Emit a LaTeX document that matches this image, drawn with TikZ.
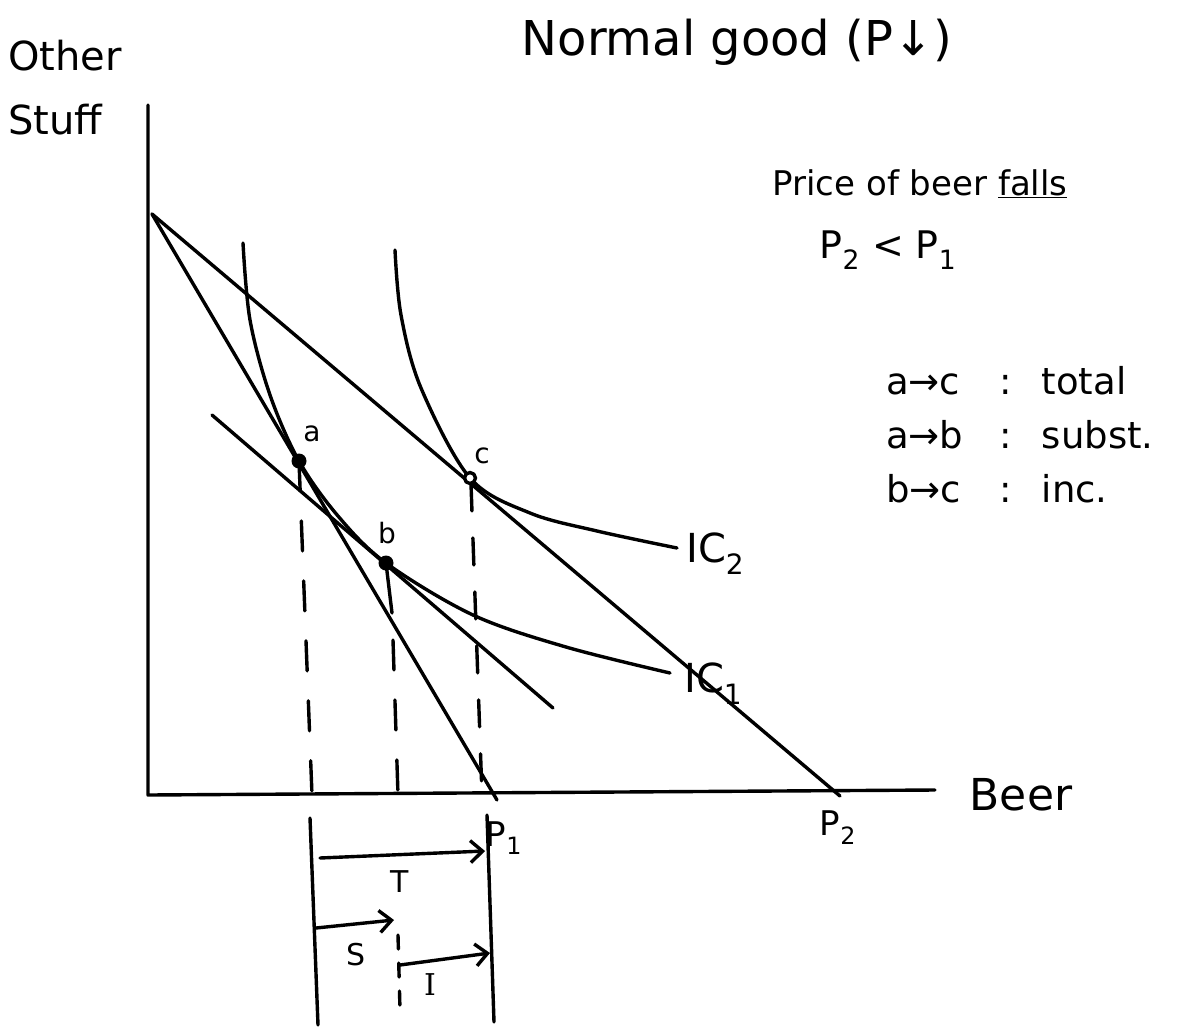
\documentclass[tikz,border=0pt]{standalone}
\usepackage{fontspec}
\setmainfont{DejaVu Sans}
\newfontfamily\serf{DejaVu Serif}
\usetikzlibrary{arrows.meta}
\begin{document}
\begin{tikzpicture}[x=1pt,y=-1pt,
  ink/.style={line width=3.4pt, line cap=round, line join=round},
  dashline/.style={ink, dash pattern=on 30pt off 30pt},
  arr/.style={ink, -{Straight Barb[length=12pt,width=22pt]}},
  lbl/.style={inner sep=0pt},
  big/.style={lbl, font=\fontsize{48}{58}\selectfont},
  mid/.style={lbl, font=\fontsize{36}{44}\selectfont},
  small/.style={lbl, font=\fontsize{28}{30}\selectfont},
  dot/.style={fill=black, draw=none},
]
\useasboundingbox (0,0) rectangle (1195,1029);

% key points
\coordinate (ytop) at (148,105);
\coordinate (O) at (148,795);
\coordinate (xend) at (935,790);
\coordinate (Y0) at (152,214);
\coordinate (P1x) at (497,800);
\coordinate (P2x) at (840,796);
\coordinate (cl1) at (212,415);
\coordinate (cl2) at (553,708);
\coordinate (pa) at (299,461);
\coordinate (pb) at (386,563);
\coordinate (pc) at (470,478);

% axes
\draw[ink] (ytop) -- (O) -- (xend);

% budget lines
\draw[ink] (Y0) -- (P1x);
\draw[ink] (Y0) -- (P2x);
\draw[ink] (cl1) -- (cl2);

% indifference curves
\draw[ink] plot[smooth, tension=0.55] coordinates {(243,243) (250,320) (270,395) (pa) (338,516) (pb) (473,615) (566,647) (670,673)};
\draw[ink] plot[smooth, tension=0.55] coordinates {(395,250) (401,315) (421,388) (pc) (530,513) (597,531) (677,548)};

% dashed drop lines
\coordinate (fa) at (312,795);
\coordinate (bs) at (392,613);
\coordinate (bd) at (393,640);
\coordinate (fb) at (398,795);
\coordinate (cs) at (471,484);
\coordinate (fc) at (482,795);
\draw[dashline] (pa) -- (fa);
\draw[ink] (pb) -- (bs);
\draw[dashline] (bd) -- (fb);
\draw[ink, dash pattern=on 27pt off 27pt] (cs) -- (fc);

% points
\fill[dot] (pa) circle (7.5);
\fill[dot] (pb) circle (7.5);
\draw[ink, fill=white] (pc) circle (5.5);

% point labels
\node[small] (la) at (312,434) {a};
\node[small] (lb) at (387,533) {b};
\node[small] (lc) at (482,456) {c};

% curve labels
\node[mid, anchor=west, font=\fontsize{40}{44}\selectfont] (ic2) at (686,554) {IC\textsubscript{2}};
\node[mid, anchor=west, font=\fontsize{40}{44}\selectfont] (ic1) at (684,684) {IC\textsubscript{1}};

% axis labels
\node[lbl, anchor=west, align=left, font=\fontsize{40}{64}\selectfont] (ylab) at (8,88) {Other\\Stuff};
\node[lbl, font=\fontsize{44}{50}\selectfont] (xlab) at (1021,795) {Beer};
\node[lbl, font=\fontsize{34}{40}\selectfont] (p1) at (504,838) {P\textsubscript{1}};
\node[lbl, font=\fontsize{34}{40}\selectfont] (p2) at (838,828) {P\textsubscript{2}};

% title and notes
\node[big] (title) at (737,42) {Normal good (P↓)};
\node[lbl, font=\fontsize{34}{40}\selectfont] (note1) at (920,184) {Price of beer \underline{falls}};
\node[lbl, font=\fontsize{38}{44}\selectfont] (note2) at (888,250) {P\textsubscript{2} < P\textsubscript{1}};
\node[lbl, anchor=north west, font=\fontsize{37}{54}\selectfont] (effects) at (886,356)
  {\begin{tabular}{@{}l@{\hspace{36pt}}c@{\hspace{30pt}}l@{}}
   a→c & : & total\\
   a→b & : & subst.\\
   b→c & : & inc.
   \end{tabular}};

% decomposition below the axis
\coordinate (L1) at (310,818);
\coordinate (L2) at (318,1025);
\coordinate (R1) at (487,815);
\coordinate (R2) at (494,1022);
\draw[ink] (L1) -- (L2);
\draw[ink] (R1) -- (R2);
\coordinate (t0) at (320,858);
\coordinate (t1) at (485,851);
\coordinate (s0) at (316,928);
\coordinate (s1) at (394,920);
\coordinate (d0) at (398,935);
\coordinate (d1) at (400,1010);
\coordinate (i0) at (400,965);
\coordinate (i1) at (490,953);
\draw[arr] (t0) -- (t1);
\draw[arr] (s0) -- (s1);
\draw[ink, dash pattern=on 14pt off 14pt] (d0) -- (d1);
\draw[arr] (i0) -- (i1);
\node[lbl, font=\fontsize{30}{34}\selectfont] (lt) at (400,882) {T};
\node[lbl, font=\fontsize{30}{34}\selectfont] (ls) at (356,955) {S};
\node[lbl, font=\fontsize{30}{34}\selectfont\serf] (li) at (430,985) {I};
\end{tikzpicture}
\end{document}
